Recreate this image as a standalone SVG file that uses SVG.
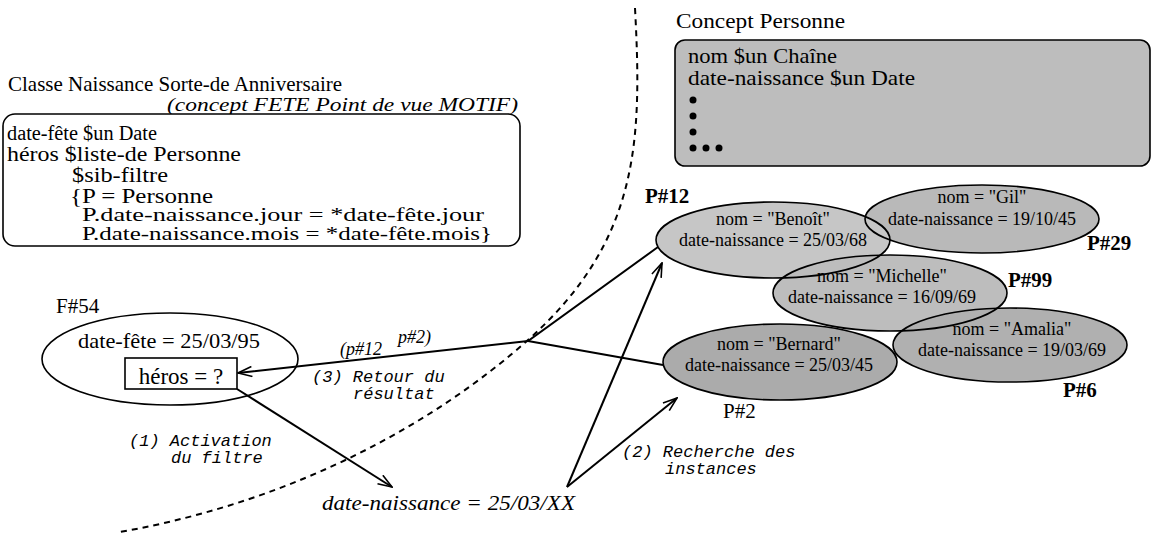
<svg xmlns="http://www.w3.org/2000/svg" width="1151" height="541" viewBox="0 0 1151 541">
<style>
.t{font-family:"Liberation Serif","Times New Roman",serif;fill:#000}
.it{font-style:italic}
.b{font-weight:bold}
.m{font-family:"Liberation Mono","Courier New",monospace;font-style:italic;fill:#000}
.ln{stroke:#000;stroke-width:2;fill:none}
.gfill{fill:#bdbdbd;stroke:none}
.gout{fill:none;stroke:#000;stroke-width:1.6}
</style>
<defs>
<marker id="arr" viewBox="0 0 16 12" refX="15" refY="6" markerWidth="16" markerHeight="12" markerUnits="userSpaceOnUse" orient="auto">
<path d="M1,1 L15,6 L1,11" fill="none" stroke="#000" stroke-width="1.6"/>
</marker>
</defs>
<rect width="1151" height="541" fill="#fff"/>

<!-- dashed separator -->
<path d="M635,8 C642,140 640,240 528,340 C438,420 300,500 120,532" fill="none" stroke="#000" stroke-width="2" stroke-dasharray="6 5"/>

<!-- class box -->
<g id="classe">
<text class="t" x="8" y="91" font-size="21">Classe Naissance Sorte-de Anniversaire</text>
<text class="t it" x="167" y="111" font-size="19" textLength="351" lengthAdjust="spacingAndGlyphs">(concept FETE Point de vue MOTIF)</text>
<rect x="3" y="114" width="517" height="132" rx="12" fill="#fff" stroke="#000" stroke-width="1.6"/>
<g class="t" font-size="20">
<text x="7" y="140" textLength="150" lengthAdjust="spacingAndGlyphs">date-fête $un Date</text>
<text x="7" y="161" textLength="234" lengthAdjust="spacingAndGlyphs">héros $liste-de Personne</text>
<text x="72" y="182" textLength="96" lengthAdjust="spacingAndGlyphs">$sib-filtre</text>
<text x="70" y="203" textLength="143" lengthAdjust="spacingAndGlyphs">{P = Personne</text>
<text x="82" y="221" font-size="18" textLength="402" lengthAdjust="spacingAndGlyphs">P.date-naissance.jour = *date-fête.jour</text>
<text x="82" y="240" font-size="18" textLength="410" lengthAdjust="spacingAndGlyphs">P.date-naissance.mois = *date-fête.mois}</text>
</g>
</g>

<!-- concept personne -->
<g id="concept">
<text class="t" x="676" y="28" font-size="22" textLength="169" lengthAdjust="spacingAndGlyphs">Concept Personne</text>
<rect x="675" y="40" width="475" height="126" rx="10" fill="#bdbdbd" stroke="#000" stroke-width="1.6"/>
<text class="t" x="688" y="63" font-size="21" textLength="149" lengthAdjust="spacingAndGlyphs">nom $un Chaîne</text>
<text class="t" x="688" y="85" font-size="21" textLength="227" lengthAdjust="spacingAndGlyphs">date-naissance $un Date</text>
<circle cx="693" cy="100" r="3.5"/>
<circle cx="693" cy="116" r="3.5"/>
<circle cx="693" cy="132" r="3.5"/>
<circle cx="693" cy="148" r="3.5"/>
<circle cx="706" cy="148" r="3.5"/>
<circle cx="719" cy="148" r="3.5"/>
</g>

<!-- ellipse fills -->
<g id="fills">
<ellipse class="gfill" cx="982" cy="219" rx="117" ry="34" style="fill:#b9b9b9"/>
<ellipse class="gfill" cx="773" cy="240" rx="117" ry="38" style="fill:#c6c6c6"/>
<ellipse class="gfill" cx="890" cy="293" rx="117" ry="38" style="fill:#bdbdbd"/>
<ellipse class="gfill" cx="780" cy="362" rx="117" ry="38" style="fill:#ababab"/>
<ellipse class="gfill" cx="1010" cy="345" rx="117" ry="37" style="fill:#b0b0b0"/>
</g>

<g id="p12">
<ellipse class="gout" cx="773" cy="240" rx="117" ry="38"/>
<text class="t b" x="645" y="203" font-size="21">P#12</text>
<text class="t" x="773" y="225" font-size="18" text-anchor="middle">nom = "Benoît"</text>
<text class="t" x="773" y="246" font-size="18" text-anchor="middle">date-naissance = 25/03/68</text>
</g>
<g id="p29">
<ellipse class="gout" cx="982" cy="219" rx="117" ry="34"/>
<text class="t b" x="1087" y="250" font-size="21">P#29</text>
<text class="t" x="982" y="203" font-size="18" text-anchor="middle">nom = "Gil"</text>
<text class="t" x="982" y="225" font-size="18" text-anchor="middle">date-naissance = 19/10/45</text>
</g>
<g id="p99">
<ellipse class="gout" cx="890" cy="293" rx="117" ry="38"/>
<text class="t b" x="1008" y="287" font-size="21">P#99</text>
<text class="t" x="882" y="282" font-size="18" text-anchor="middle">nom = "Michelle"</text>
<text class="t" x="882" y="303" font-size="18" text-anchor="middle">date-naissance = 16/09/69</text>
</g>
<g id="p6">
<ellipse class="gout" cx="1010" cy="345" rx="117" ry="37"/>
<text class="t b" x="1063" y="397" font-size="21">P#6</text>
<text class="t" x="1012" y="335" font-size="18" text-anchor="middle">nom = "Amalia"</text>
<text class="t" x="1012" y="356" font-size="18" text-anchor="middle">date-naissance = 19/03/69</text>
</g>
<g id="p2">
<ellipse class="gout" cx="780" cy="362" rx="117" ry="38"/>
<text class="t" x="723" y="418" font-size="21">P#2</text>
<text class="t" x="779" y="350" font-size="18" text-anchor="middle">nom = "Bernard"</text>
<text class="t" x="779" y="371" font-size="18" text-anchor="middle">date-naissance = 25/03/45</text>
</g>

<g id="f54">
<text class="t" x="56" y="313" font-size="21">F#54</text>
<ellipse cx="170" cy="359" rx="128" ry="46" fill="none" stroke="#000" stroke-width="1.6"/>
<text class="t" x="78" y="348" font-size="21" textLength="182" lengthAdjust="spacingAndGlyphs">date-fête = 25/03/95</text>
<rect x="125" y="358" width="112" height="31" fill="#fff" stroke="#000" stroke-width="1.6"/>
<text class="t" x="181" y="384" font-size="23" text-anchor="middle">héros = ?</text>
</g>

<g id="filtre">
<text class="t it" x="322" y="510" font-size="22" textLength="253" lengthAdjust="spacingAndGlyphs">date-naissance = 25/03/XX</text>
</g>

<g id="connectors">
<path class="ln" d="M237,389 L392,487" marker-end="url(#arr)"/>
<path class="ln" d="M658,247 L528,341 L238,373" marker-end="url(#arr)"/>
<path class="ln" d="M663,365 L528,341"/>
<path class="ln" d="M567,487 L662,263" marker-end="url(#arr)"/>
<path class="ln" d="M567,487 L677,398" marker-end="url(#arr)"/>
</g>

<g id="labels">
<text class="t it" font-size="18"><tspan x="340" y="355">(p#12</tspan><tspan x="398" y="343">p#2)</tspan></text>
<text class="m" x="312" y="382" font-size="17">(3) Retour du</text>
<text class="m" x="353" y="399" font-size="17">résultat</text>
<text class="m" x="129" y="446" font-size="17">(1) Activation</text>
<text class="m" x="171" y="463" font-size="17">du filtre</text>
<text class="m" x="622" y="457" font-size="17">(2) Recherche des</text>
<text class="m" x="665" y="474" font-size="17">instances</text>
</g>
</svg>
